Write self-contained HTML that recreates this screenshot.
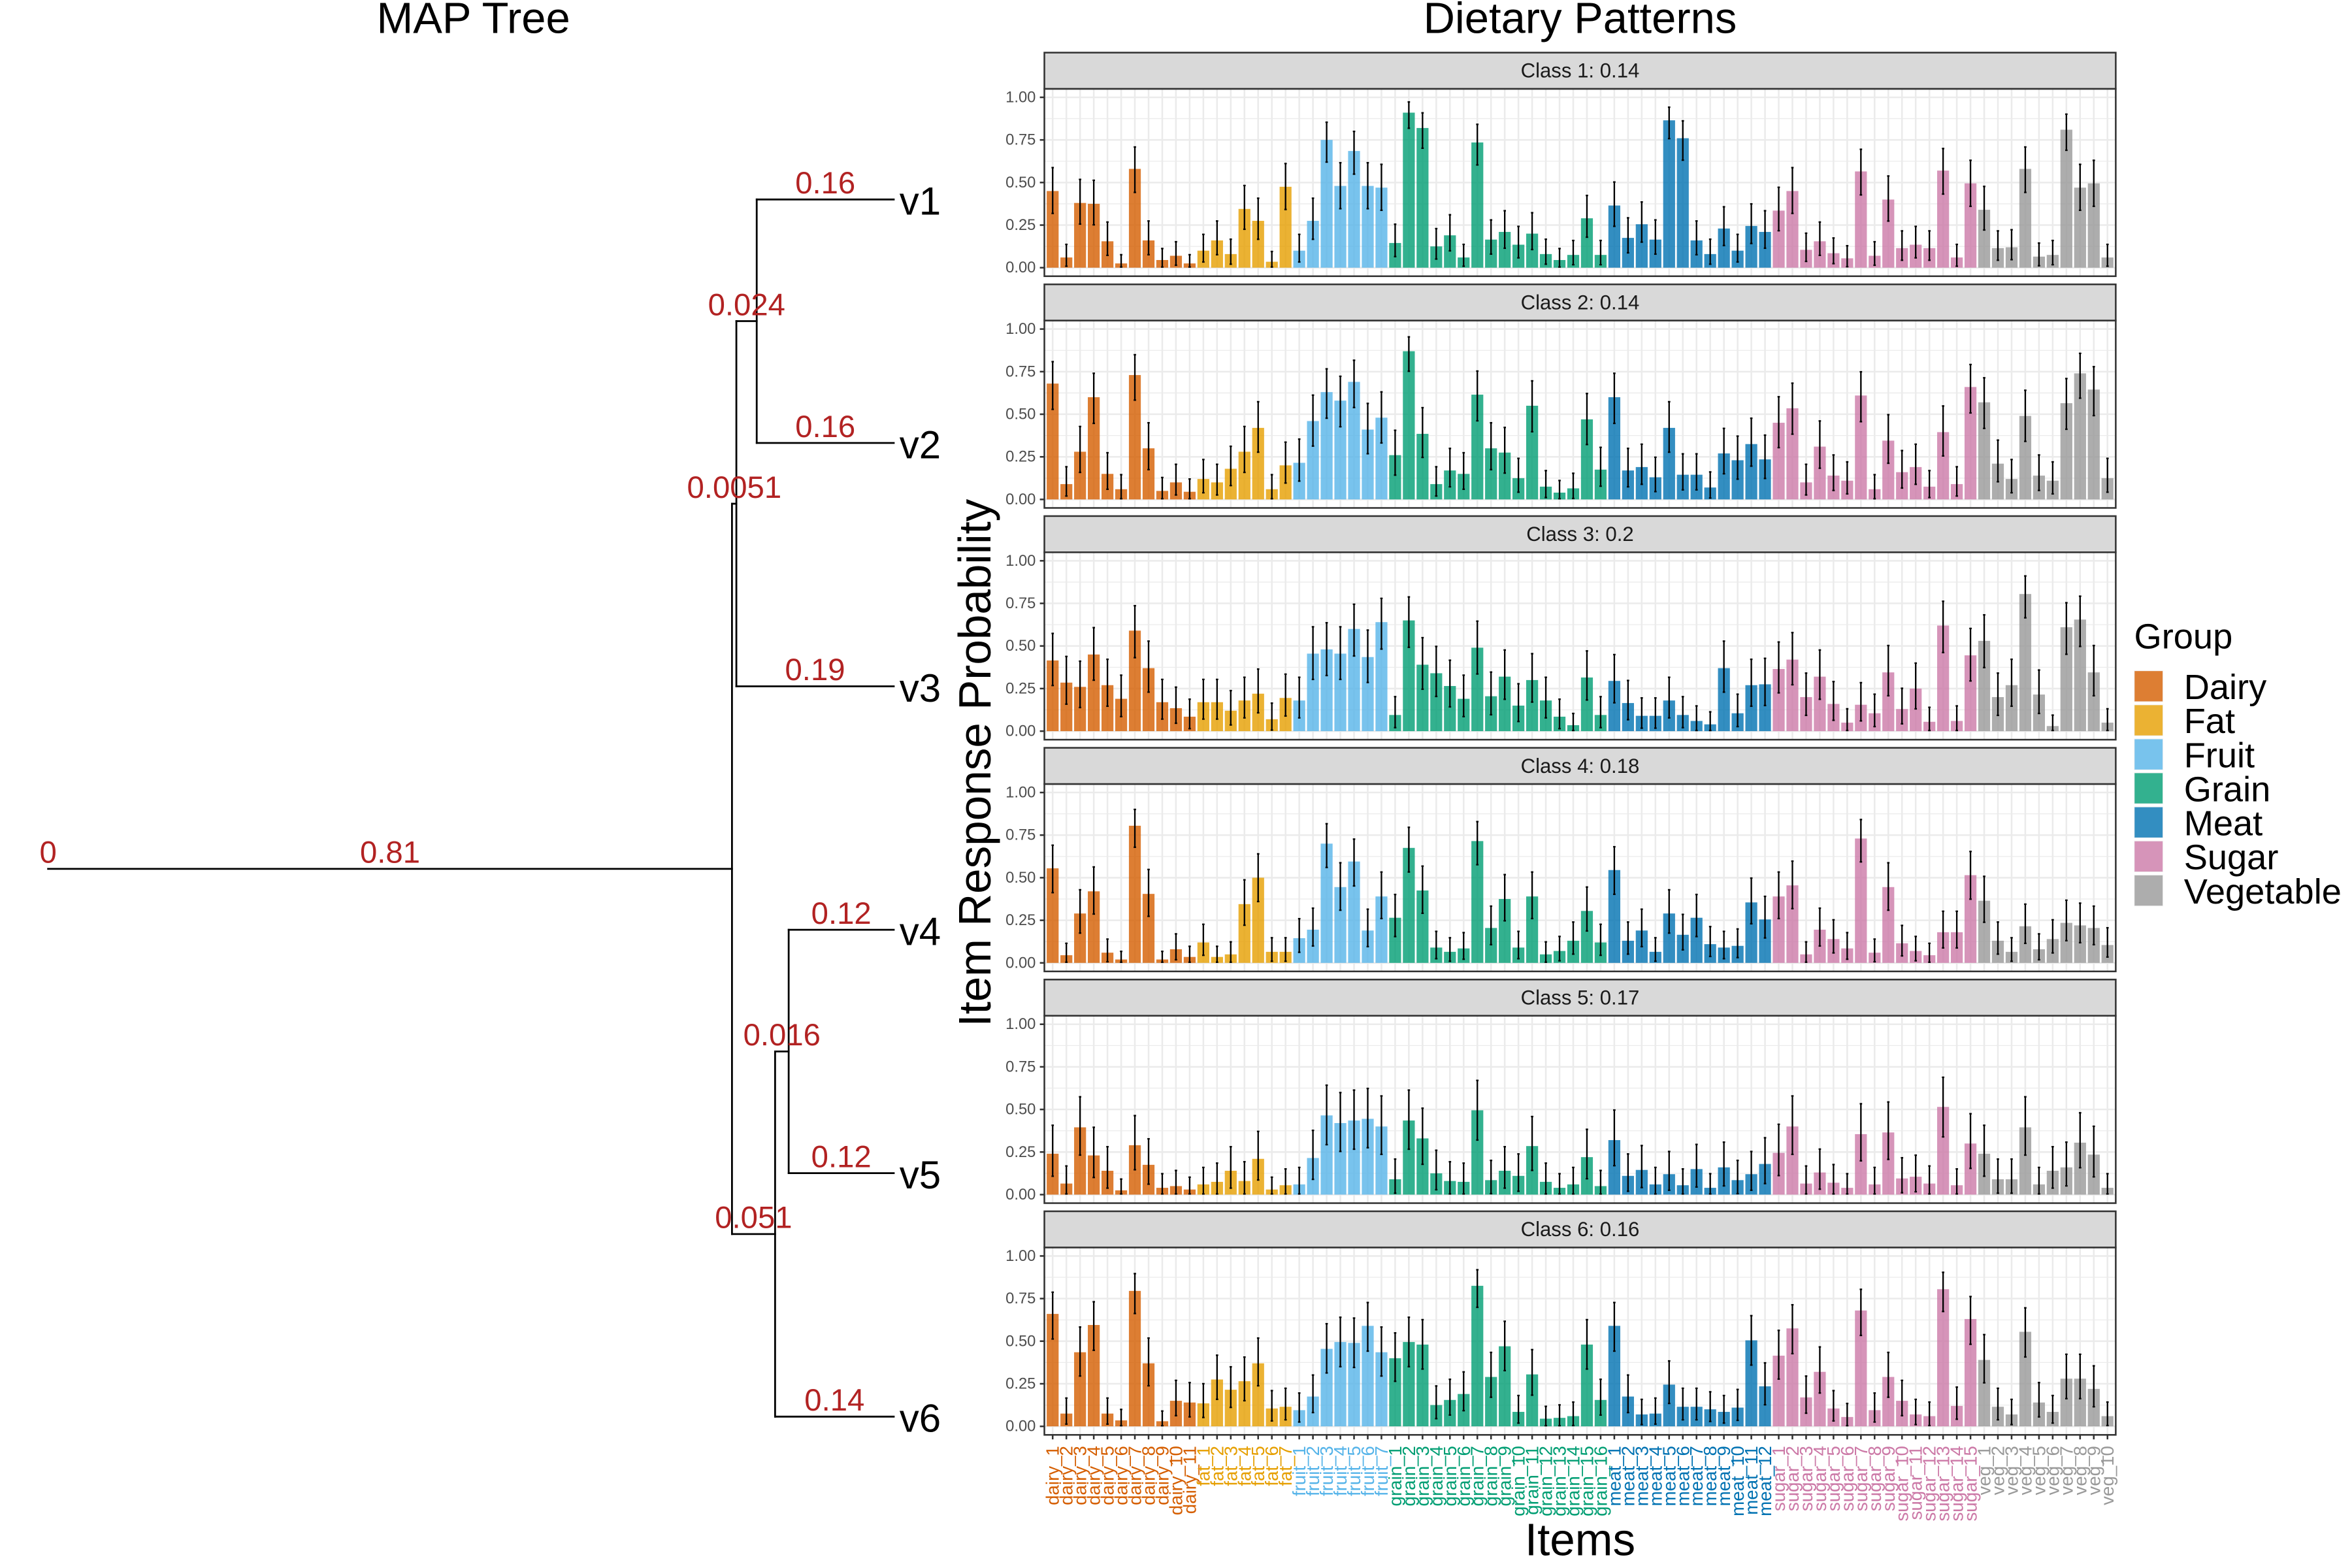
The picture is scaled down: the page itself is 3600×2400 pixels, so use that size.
<!DOCTYPE html>
<html><head><meta charset="utf-8"><style>
html,body{margin:0;padding:0;background:#fff;}
svg{display:block;}
text{font-family:"Liberation Sans",Arial,sans-serif;}
</style></head><body>
<svg id="s" xmlns="http://www.w3.org/2000/svg" width="3600" height="2400" viewBox="0 0 1560 1040">
<rect x="0" y="0" width="1560" height="1040" fill="#fff"/>
<g id="plots"></g>

<!-- titles -->
<text x="314" y="21.9" font-size="29" text-anchor="middle" fill="#000">MAP Tree</text>
<text x="1048" y="21.9" font-size="29" text-anchor="middle" fill="#000">Dietary Patterns</text>

<!-- tree -->
<g stroke="#000" stroke-width="1.2" fill="none" stroke-linecap="square">
<line x1="31.9" y1="576.3" x2="485.5" y2="576.3"/>
<line x1="485.5" y1="334.1" x2="485.5" y2="818.5"/>
<line x1="485.5" y1="334.1" x2="488.4" y2="334.1"/>
<line x1="488.4" y1="213" x2="488.4" y2="455.2"/>
<line x1="488.4" y1="213" x2="501.9" y2="213"/>
<line x1="501.9" y1="132.3" x2="501.9" y2="293.8"/>
<line x1="501.9" y1="132.3" x2="592.8" y2="132.3"/>
<line x1="501.9" y1="293.8" x2="592.8" y2="293.8"/>
<line x1="488.4" y1="455.2" x2="592.8" y2="455.2"/>
<line x1="485.5" y1="818.5" x2="514.1" y2="818.5"/>
<line x1="514.1" y1="697.4" x2="514.1" y2="939.6"/>
<line x1="514.1" y1="697.4" x2="523.1" y2="697.4"/>
<line x1="523.1" y1="616.7" x2="523.1" y2="778.1"/>
<line x1="523.1" y1="616.7" x2="592.8" y2="616.7"/>
<line x1="523.1" y1="778.1" x2="592.8" y2="778.1"/>
<line x1="514.1" y1="939.6" x2="592.8" y2="939.6"/>
</g>
<g font-size="26" fill="#000">
<text x="596.6" y="142.4">v1</text>
<text x="596.6" y="303.9">v2</text>
<text x="596.6" y="465.3">v3</text>
<text x="596.6" y="626.8">v4</text>
<text x="596.6" y="788.2">v5</text>
<text x="596.6" y="949.7">v6</text>
</g>
<g font-size="20.5" fill="#B22222" text-anchor="middle">
<text x="31.9" y="572.3">0</text>
<text x="258.7" y="572.3">0.81</text>
<text x="487" y="330.1">0.0051</text>
<text x="495.2" y="209">0.024</text>
<text x="547.4" y="128.3">0.16</text>
<text x="547.4" y="289.8">0.16</text>
<text x="540.6" y="451.2">0.19</text>
<text x="499.8" y="814.5">0.051</text>
<text x="518.6" y="693.4">0.016</text>
<text x="558" y="612.7">0.12</text>
<text x="558" y="774.1">0.12</text>
<text x="553.5" y="935.6">0.14</text>
</g>

<!-- strip labels -->
<g font-size="13.5" fill="#1A1A1A" text-anchor="middle" dominant-baseline="central">
<text x="1048" y="46.9">Class 1: 0.14</text>
<text x="1048" y="200.6">Class 2: 0.14</text>
<text x="1048" y="354.3">Class 3: 0.2</text>
<text x="1048" y="508">Class 4: 0.18</text>
<text x="1048" y="661.7">Class 5: 0.17</text>
<text x="1048" y="815.4">Class 6: 0.16</text>
</g>

<!-- y tick labels -->
<g font-size="10.3" fill="#4D4D4D" text-anchor="end" dominant-baseline="central">
<g transform="translate(0,58.9)"><text x="687" y="5.65">1.00</text><text x="687" y="33.9">0.75</text><text x="687" y="62.15">0.50</text><text x="687" y="90.4">0.25</text><text x="687" y="118.65">0.00</text></g>
<g transform="translate(0,212.6)"><text x="687" y="5.65">1.00</text><text x="687" y="33.9">0.75</text><text x="687" y="62.15">0.50</text><text x="687" y="90.4">0.25</text><text x="687" y="118.65">0.00</text></g>
<g transform="translate(0,366.3)"><text x="687" y="5.65">1.00</text><text x="687" y="33.9">0.75</text><text x="687" y="62.15">0.50</text><text x="687" y="90.4">0.25</text><text x="687" y="118.65">0.00</text></g>
<g transform="translate(0,520)"><text x="687" y="5.65">1.00</text><text x="687" y="33.9">0.75</text><text x="687" y="62.15">0.50</text><text x="687" y="90.4">0.25</text><text x="687" y="118.65">0.00</text></g>
<g transform="translate(0,673.7)"><text x="687" y="5.65">1.00</text><text x="687" y="33.9">0.75</text><text x="687" y="62.15">0.50</text><text x="687" y="90.4">0.25</text><text x="687" y="118.65">0.00</text></g>
<g transform="translate(0,827.4)"><text x="687" y="5.65">1.00</text><text x="687" y="33.9">0.75</text><text x="687" y="62.15">0.50</text><text x="687" y="90.4">0.25</text><text x="687" y="118.65">0.00</text></g>
</g>

<!-- axis titles -->
<text transform="translate(657,506) rotate(-90)" font-size="30" text-anchor="middle" fill="#000">Item Response Probability</text>
<text x="1048" y="1031.5" font-size="30" text-anchor="middle" fill="#000">Items</text>

<!-- x tick labels (rotated) -->
<g transform="rotate(-90)" font-size="12" text-anchor="end" dominant-baseline="central">
<g fill="#D55E00">
<text x="-959" y="698.2">dairy_1</text><text x="-959" y="707.29">dairy_2</text><text x="-959" y="716.37">dairy_3</text><text x="-959" y="725.46">dairy_4</text><text x="-959" y="734.54">dairy_5</text><text x="-959" y="743.63">dairy_6</text><text x="-959" y="752.72">dairy_7</text><text x="-959" y="761.8">dairy_8</text><text x="-959" y="770.89">dairy_9</text><text x="-959" y="779.97">dairy_10</text><text x="-959" y="789.06">dairy_11</text>
</g>
<g fill="#E69F00">
<text x="-959" y="798.15">fat_1</text><text x="-959" y="807.23">fat_2</text><text x="-959" y="816.32">fat_3</text><text x="-959" y="825.4">fat_4</text><text x="-959" y="834.49">fat_5</text><text x="-959" y="843.58">fat_6</text><text x="-959" y="852.66">fat_7</text>
</g>
<g fill="#56B4E9">
<text x="-959" y="861.75">fruit_1</text><text x="-959" y="870.83">fruit_2</text><text x="-959" y="879.92">fruit_3</text><text x="-959" y="889.01">fruit_4</text><text x="-959" y="898.09">fruit_5</text><text x="-959" y="907.18">fruit_6</text><text x="-959" y="916.26">fruit_7</text>
</g>
<g fill="#009E73">
<text x="-959" y="925.35">grain_1</text><text x="-959" y="934.44">grain_2</text><text x="-959" y="943.52">grain_3</text><text x="-959" y="952.61">grain_4</text><text x="-959" y="961.69">grain_5</text><text x="-959" y="970.78">grain_6</text><text x="-959" y="979.87">grain_7</text><text x="-959" y="988.95">grain_8</text><text x="-959" y="998.04">grain_9</text><text x="-959" y="1007.12">grain_10</text><text x="-959" y="1016.21">grain_11</text><text x="-959" y="1025.3">grain_12</text><text x="-959" y="1034.38">grain_13</text><text x="-959" y="1043.47">grain_14</text><text x="-959" y="1052.55">grain_15</text><text x="-959" y="1061.64">grain_16</text>
</g>
<g fill="#0072B2">
<text x="-959" y="1070.73">meat_1</text><text x="-959" y="1079.81">meat_2</text><text x="-959" y="1088.9">meat_3</text><text x="-959" y="1097.98">meat_4</text><text x="-959" y="1107.07">meat_5</text><text x="-959" y="1116.16">meat_6</text><text x="-959" y="1125.24">meat_7</text><text x="-959" y="1134.33">meat_8</text><text x="-959" y="1143.41">meat_9</text><text x="-959" y="1152.5">meat_10</text><text x="-959" y="1161.59">meat_11</text><text x="-959" y="1170.67">meat_12</text>
</g>
<g fill="#CC79A7">
<text x="-959" y="1179.76">sugar_1</text><text x="-959" y="1188.84">sugar_2</text><text x="-959" y="1197.93">sugar_3</text><text x="-959" y="1207.02">sugar_4</text><text x="-959" y="1216.1">sugar_5</text><text x="-959" y="1225.19">sugar_6</text><text x="-959" y="1234.27">sugar_7</text><text x="-959" y="1243.36">sugar_8</text><text x="-959" y="1252.45">sugar_9</text><text x="-959" y="1261.53">sugar_10</text><text x="-959" y="1270.62">sugar_11</text><text x="-959" y="1279.7">sugar_12</text><text x="-959" y="1288.79">sugar_13</text><text x="-959" y="1297.88">sugar_14</text><text x="-959" y="1306.96">sugar_15</text>
</g>
<g fill="#999999">
<text x="-959" y="1316.05">veg_1</text><text x="-959" y="1325.13">veg_2</text><text x="-959" y="1334.22">veg_3</text><text x="-959" y="1343.31">veg_4</text><text x="-959" y="1352.39">veg_5</text><text x="-959" y="1361.48">veg_6</text><text x="-959" y="1370.56">veg_7</text><text x="-959" y="1379.65">veg_8</text><text x="-959" y="1388.74">veg_9</text><text x="-959" y="1397.82">veg_10</text>
</g>
</g>

<!-- legend -->
<text x="1415.5" y="430" font-size="23.5" fill="#000">Group</text>
<g stroke="#F2F2F2" stroke-width="0.4">
<rect x="1415.6" y="444.9" width="19" height="20.5" fill="#DD7E33"/>
<rect x="1415.6" y="467.5" width="19" height="20.5" fill="#EBB233"/>
<rect x="1415.6" y="490.1" width="19" height="20.5" fill="#78C3ED"/>
<rect x="1415.6" y="512.6" width="19" height="20.5" fill="#33B18F"/>
<rect x="1415.6" y="535.2" width="19" height="20.5" fill="#338EC1"/>
<rect x="1415.6" y="557.8" width="19" height="20.5" fill="#D694B9"/>
<rect x="1415.6" y="580.4" width="19" height="20.5" fill="#ADADAD"/>
</g>
<g font-size="23.5" fill="#000">
<text x="1448.5" y="463.7">Dairy</text>
<text x="1448.5" y="486.3">Fat</text>
<text x="1448.5" y="508.9">Fruit</text>
<text x="1448.5" y="531.4">Grain</text>
<text x="1448.5" y="554">Meat</text>
<text x="1448.5" y="576.6">Sugar</text>
<text x="1448.5" y="599.2">Vegetable</text>
</g>
</svg>
<script>
(function(){
var NS="http://www.w3.org/2000/svg";
var g=document.getElementById("plots");
function el(n,a){var e=document.createElementNS(NS,n);for(var k in a)e.setAttribute(k,a[k]);g.appendChild(e);return e;}
var counts=[11,7,7,16,12,15,10];
var cols=["#D55E00","#E69F00","#56B4E9","#009E73","#0072B2","#CC79A7","#999999"];
var itemCol=[];for(var c=0;c<7;c++)for(var j=0;j<counts[c];j++)itemCol.push(cols[c]);
var D=[
[0.45,0.06,0.38,0.375,0.155,0.025,0.58,0.16,0.045,0.07,0.025, 0.10,0.16,0.08,0.345,0.275,0.035,0.475, 0.10,0.275,0.75,0.48,0.685,0.48,0.47, 0.145,0.91,0.82,0.125,0.19,0.06,0.735,0.165,0.21,0.135,0.20,0.08,0.045,0.075,0.29,0.075, 0.365,0.175,0.255,0.165,0.865,0.76,0.16,0.08,0.23,0.10,0.245,0.21, 0.335,0.45,0.105,0.155,0.085,0.055,0.565,0.07,0.40,0.115,0.135,0.115,0.57,0.06,0.495, 0.34,0.115,0.12,0.58,0.065,0.075,0.81,0.47,0.495,0.06],
[0.68,0.09,0.28,0.60,0.15,0.06,0.73,0.30,0.05,0.10,0.045, 0.12,0.10,0.18,0.28,0.42,0.06,0.20, 0.215,0.46,0.63,0.58,0.69,0.41,0.48, 0.26,0.87,0.385,0.09,0.17,0.15,0.615,0.30,0.275,0.125,0.55,0.075,0.04,0.065,0.47,0.175, 0.60,0.17,0.19,0.13,0.42,0.145,0.145,0.07,0.27,0.23,0.325,0.235, 0.45,0.535,0.10,0.31,0.14,0.11,0.61,0.06,0.345,0.16,0.19,0.075,0.395,0.09,0.66, 0.57,0.21,0.12,0.49,0.14,0.11,0.565,0.74,0.645,0.125],
[0.415,0.285,0.26,0.45,0.27,0.19,0.59,0.37,0.17,0.135,0.085, 0.17,0.17,0.12,0.18,0.22,0.07,0.195, 0.18,0.455,0.48,0.455,0.60,0.435,0.64, 0.095,0.65,0.39,0.34,0.265,0.19,0.49,0.205,0.32,0.15,0.30,0.18,0.085,0.035,0.315,0.095, 0.295,0.165,0.09,0.09,0.18,0.095,0.06,0.04,0.37,0.105,0.27,0.275, 0.365,0.42,0.20,0.32,0.16,0.05,0.155,0.105,0.345,0.13,0.25,0.055,0.62,0.06,0.445, 0.53,0.20,0.27,0.805,0.215,0.03,0.61,0.655,0.345,0.05],
[0.555,0.045,0.29,0.42,0.06,0.02,0.805,0.405,0.02,0.08,0.035, 0.12,0.035,0.05,0.345,0.50,0.065,0.065, 0.145,0.195,0.70,0.445,0.595,0.19,0.39, 0.265,0.675,0.425,0.09,0.065,0.085,0.715,0.205,0.375,0.09,0.39,0.05,0.07,0.13,0.305,0.12, 0.545,0.13,0.19,0.065,0.29,0.165,0.265,0.11,0.09,0.10,0.355,0.255, 0.39,0.455,0.05,0.195,0.14,0.085,0.73,0.06,0.445,0.115,0.07,0.045,0.18,0.18,0.515, 0.365,0.13,0.065,0.215,0.08,0.14,0.235,0.22,0.205,0.105],
[0.24,0.065,0.395,0.23,0.14,0.025,0.29,0.175,0.04,0.05,0.03, 0.06,0.075,0.14,0.08,0.21,0.03,0.055, 0.06,0.215,0.465,0.42,0.435,0.445,0.40, 0.09,0.435,0.33,0.125,0.08,0.075,0.495,0.085,0.14,0.11,0.285,0.075,0.04,0.06,0.22,0.05, 0.32,0.11,0.145,0.06,0.12,0.055,0.15,0.04,0.16,0.085,0.12,0.18, 0.245,0.40,0.065,0.13,0.07,0.04,0.355,0.06,0.365,0.095,0.105,0.065,0.515,0.055,0.30, 0.24,0.09,0.09,0.395,0.06,0.14,0.16,0.305,0.235,0.04],
[0.66,0.075,0.435,0.595,0.075,0.035,0.795,0.37,0.03,0.15,0.14, 0.135,0.275,0.215,0.265,0.37,0.105,0.115, 0.095,0.175,0.455,0.495,0.49,0.59,0.435, 0.40,0.495,0.48,0.125,0.155,0.19,0.825,0.29,0.47,0.085,0.305,0.045,0.05,0.06,0.48,0.155, 0.59,0.175,0.07,0.075,0.245,0.115,0.115,0.10,0.085,0.11,0.505,0.235, 0.415,0.575,0.17,0.32,0.105,0.055,0.68,0.095,0.29,0.15,0.07,0.06,0.805,0.12,0.63, 0.39,0.115,0.07,0.555,0.14,0.085,0.28,0.28,0.22,0.06]
];
var F=[0.27,0.30,0.31,0.28,0.35,0.29];
var L=692.7,R=1403.3,x1=698.2,dx=9.086,bw=7.9,H=124.3,sc=H/1.1;
function X(i){return x1+dx*i;}
for(var k=0;k<6;k++){
  var T=58.9+153.7*k,B=T+H;
  var Y=function(v){return B-(v+0.05)*sc;};
  el("rect",{x:L,y:T,width:R-L,height:H,fill:"#fff"});
  [0.125,0.375,0.625,0.875].forEach(function(v){el("line",{x1:L,x2:R,y1:Y(v),y2:Y(v),stroke:"#EBEBEB","stroke-width":0.55});});
  [0,0.25,0.5,0.75,1].forEach(function(v){el("line",{x1:L,x2:R,y1:Y(v),y2:Y(v),stroke:"#EBEBEB","stroke-width":1.1});});
  for(var i=0;i<78;i++){el("line",{x1:X(i),x2:X(i),y1:T,y2:B,stroke:"#EBEBEB","stroke-width":1.1});}
  var d=D[k];
  for(var i=0;i<78;i++){
    var v=d[i];
    el("rect",{x:X(i)-bw/2,y:Y(v),width:bw,height:Y(0)-Y(v),fill:itemCol[i],"fill-opacity":0.8});
  }
  for(var i=0;i<78;i++){
    var v=d[i],s=Math.sqrt(v*(1-v))*F[k];
    var up=1+0.45*(0.5-v),dn=1-0.45*(0.5-v);
    var lo=Math.max(0.004,v-s*dn),hi=Math.min(0.99,v+s*up);
    el("line",{x1:X(i),x2:X(i),y1:Y(lo),y2:Y(hi),stroke:"#000","stroke-width":1.0});
    el("line",{x1:X(i)-0.8,x2:X(i)+0.8,y1:Y(lo),y2:Y(lo),stroke:"#000","stroke-width":1.0});
    el("line",{x1:X(i)-0.8,x2:X(i)+0.8,y1:Y(hi),y2:Y(hi),stroke:"#000","stroke-width":1.0});
  }
  el("rect",{x:L,y:T,width:R-L,height:H,fill:"none",stroke:"#333","stroke-width":1.1});
  el("rect",{x:L,y:T-24,width:R-L,height:24,fill:"#D9D9D9",stroke:"#333","stroke-width":1.1});
  [0,0.25,0.5,0.75,1].forEach(function(v){el("line",{x1:L-3,x2:L,y1:Y(v),y2:Y(v),stroke:"#333","stroke-width":1.1});});
  if(k==5){for(var i=0;i<78;i++){el("line",{x1:X(i),x2:X(i),y1:B,y2:B+3,stroke:"#333","stroke-width":1.1});}}
}
})();
</script>
</body></html>
